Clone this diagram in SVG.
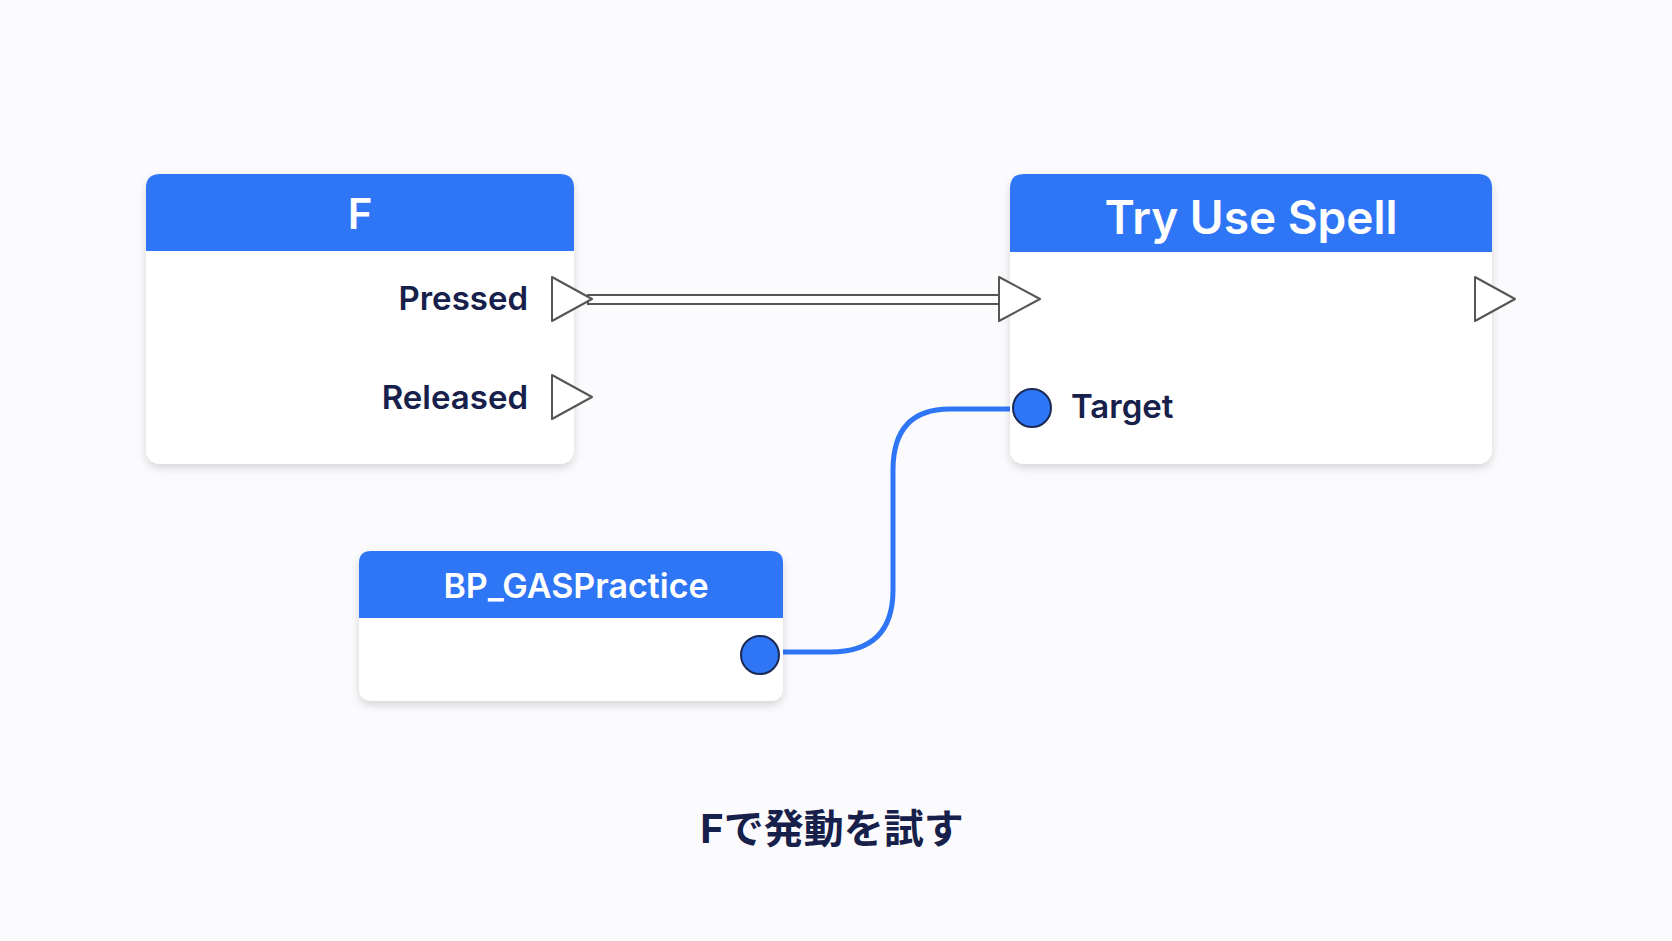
<svg xmlns="http://www.w3.org/2000/svg" width="1672" height="941" viewBox="0 0 1672 941">
<defs>
<style>
.card{fill:#fff;filter:url(#sh)}
.hdr{fill:#2f76f6}
.t{font-family:Inter,"Noto Sans","Noto Sans CJK JP",sans-serif;fill:#fff;font-weight:600;text-anchor:middle}
.lbl{font-family:Inter,"Noto Sans",sans-serif;fill:#16204a;font-weight:600;font-size:33px}
.exec{fill:#fff;stroke:#555;stroke-width:2;stroke-linejoin:round}
.dp{fill:#2f76f6;stroke:#1b2a55;stroke-width:2}
</style>
<filter id="sh" x="-10%" y="-10%" width="120%" height="130%"><feDropShadow dx="0" dy="4" stdDeviation="4" flood-color="#000" flood-opacity="0.15"/></filter>
</defs>
<rect width="1672" height="941" fill="#fbfbfd"/>
<g id="connectors">
<rect x="588" y="295" width="414" height="9" fill="#fff" stroke="#555" stroke-width="2"/>
<path d="M778 652 H830 Q893 652 893 590 V470 Q893 409 950 409 H1016" fill="none" stroke="#2f76f6" stroke-width="5"/>
</g>
<g id="node-f">
<rect class="card" x="146" y="174" width="428" height="290" rx="14"/>
<path class="hdr" d="M146 251 V188 Q146 174 160 174 H560 Q574 174 574 188 V251 Z"/>
<text class="t" x="360" y="229" font-size="42">F</text>
<text class="lbl" x="528" y="310" text-anchor="end">Pressed</text>
<text class="lbl" x="528" y="409" text-anchor="end">Released</text>
<path class="exec" d="M552 277 L592 299 L552 321 Z"/>
<path class="exec" d="M552 375 L592 397 L552 419 Z"/>
</g>
<g id="node-spell">
<rect class="card" x="1010" y="174" width="482" height="290" rx="14"/>
<path class="hdr" d="M1010 252 V188 Q1010 174 1024 174 H1478 Q1492 174 1492 188 V252 Z"/>
<text class="t" x="1251" y="234" font-size="46">Try Use Spell</text>
<path class="exec" d="M999 277 L1040 299 L999 321 Z"/>
<path class="exec" d="M1475 277 L1515 299 L1475 321 Z"/>
<circle class="dp" cx="1032" cy="408" r="19"/>
<text class="lbl" x="1071" y="418">Target</text>
</g>
<g id="node-bp">
<rect class="card" x="359" y="551" width="424" height="150" rx="12"/>
<path class="hdr" d="M359 618 V563 Q359 551 371 551 H771 Q783 551 783 563 V618 Z"/>
<text class="t" x="576" y="598" font-size="34" font-weight="500">BP_GASPractice</text>
<circle class="dp" cx="760" cy="655" r="19"/>
</g>
<text x="832" y="843" text-anchor="middle" font-family="Inter,'Noto Sans CJK JP',sans-serif" font-weight="700" font-size="40" fill="#16204a">Fで発動を試す</text>
</svg>
